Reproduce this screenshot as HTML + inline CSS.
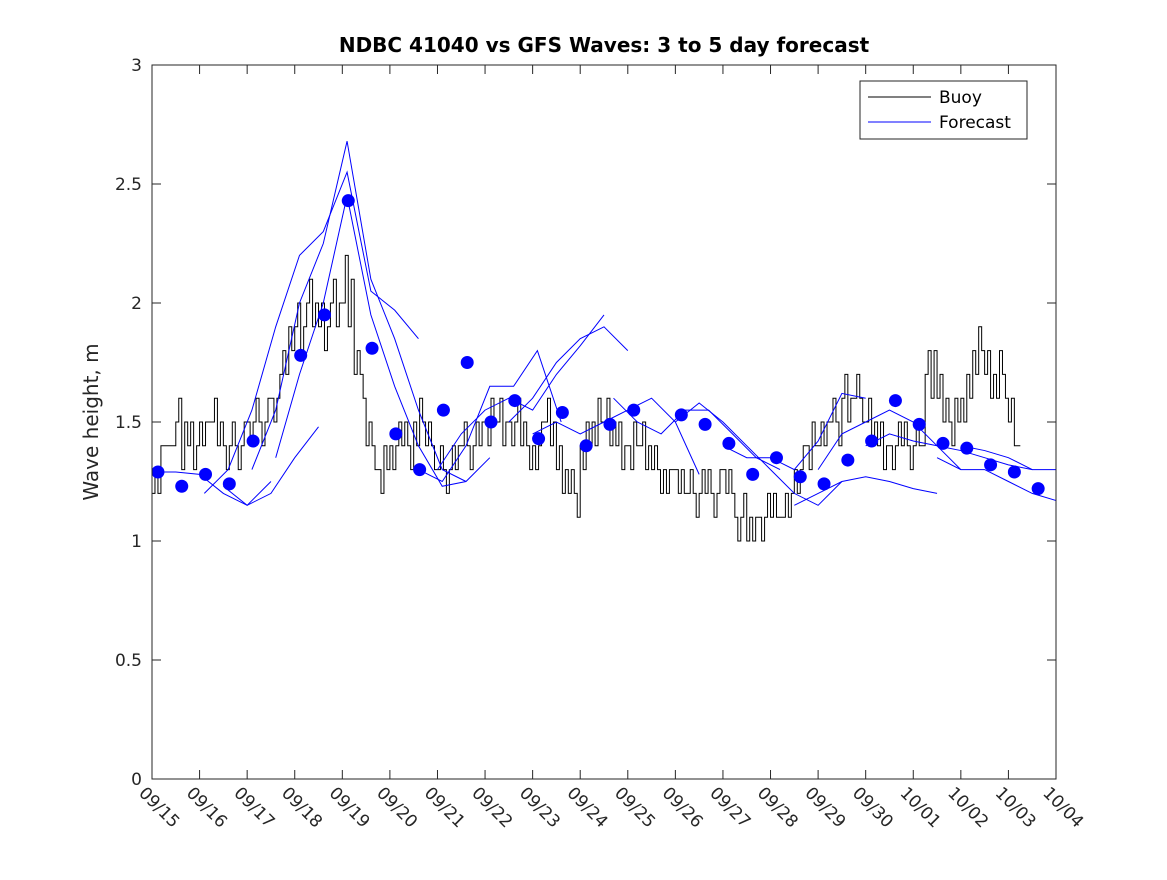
<!DOCTYPE html>
<html><head><meta charset="utf-8"><style>
body{margin:0;background:#fff;}
svg text{font-family:"DejaVu Sans","Liberation Sans",sans-serif;}
</style></head><body>
<svg id="chart" width="1167" height="875" xmlns="http://www.w3.org/2000/svg">
<defs><clipPath id="plotclip"><rect x="152" y="65" width="904" height="714"/></clipPath></defs>
<rect width="1167" height="875" fill="#fff"/>
<text x="604" y="52" font-size="20" font-weight="bold" text-anchor="middle" fill="#000">NDBC 41040 vs GFS Waves: 3 to 5 day forecast</text>
<text transform="translate(98,422) rotate(-90)" font-size="20" text-anchor="middle" fill="#262626">Wave height, m</text>
<g id="axes"></g>
<g id="marks" clip-path="url(#plotclip)"></g>
<rect x="152" y="65" width="904" height="714" fill="none" stroke="#262626" stroke-width="1"/>
<g>
<rect x="860" y="81" width="167" height="58" fill="#fff" stroke="#262626"/>
<line x1="868" y1="97" x2="931" y2="97" stroke="#000"/>
<text x="939" y="103" font-size="17" fill="#000">Buoy</text>
<line x1="868" y1="122" x2="931" y2="122" stroke="#00f"/>
<text x="939" y="128" font-size="17" fill="#000">Forecast</text>
</g>
</svg>
<script>
const xTickLabels=["09/15","09/16","09/17","09/18","09/19","09/20","09/21","09/22","09/23","09/24","09/25","09/26","09/27","09/28","09/29","09/30","10/01","10/02","10/03","10/04"];
const yTicks=[0,0.5,1,1.5,2,2.5,3];
const yTickLabels=["0","0.5","1","1.5","2","2.5","3"];
const buoyStep=0.0625;
const buoyValues=[
1.2,1.3,1.2,1.4, 1.4,1.4,1.4,1.4, 1.5,1.6,1.3,1.5, 1.4,1.5,1.3,1.4,
1.5,1.4,1.5,1.5, 1.5,1.6,1.4,1.5, 1.4,1.3,1.4,1.5, 1.4,1.3,1.4,1.5,
1.5,1.4,1.5,1.6, 1.5,1.4,1.5,1.6, 1.6,1.5,1.6,1.7, 1.8,1.7,1.9,1.8,
1.9,2.0,1.8,1.9, 2.0,2.1,1.9,2.0, 1.9,2.0,1.8,1.9, 2.0,2.1,1.9,2.0,
2.0,2.2,1.9,2.1, 1.7,1.8,1.7,1.6, 1.4,1.5,1.4,1.3, 1.3,1.2,1.4,1.3,
1.4,1.3,1.4,1.5, 1.4,1.5,1.4,1.3, 1.5,1.4,1.6,1.5, 1.4,1.5,1.4,1.3,
1.3,1.4,1.3,1.2, 1.3,1.4,1.3,1.4, 1.4,1.5,1.4,1.3, 1.4,1.5,1.4,1.5,
1.5,1.4,1.6,1.5, 1.5,1.6,1.4,1.5, 1.5,1.4,1.5,1.6, 1.4,1.5,1.4,1.3,
1.4,1.3,1.4,1.5, 1.5,1.6,1.4,1.5, 1.3,1.4,1.2,1.3, 1.2,1.3,1.2,1.1,
1.4,1.3,1.5,1.4, 1.5,1.4,1.6,1.5, 1.5,1.6,1.4,1.5, 1.4,1.5,1.3,1.4,
1.4,1.3,1.5,1.4, 1.4,1.5,1.3,1.4, 1.3,1.4,1.3,1.2, 1.3,1.2,1.3,1.3,
1.3,1.2,1.3,1.2, 1.2,1.3,1.2,1.1, 1.2,1.3,1.2,1.3, 1.2,1.1,1.2,1.3,
1.3,1.2,1.3,1.2, 1.1,1.0,1.1,1.2, 1.0,1.1,1.0,1.1, 1.1,1.0,1.1,1.2,
1.1,1.2,1.1,1.1, 1.1,1.2,1.1,1.2, 1.3,1.2,1.3,1.4, 1.4,1.3,1.5,1.4,
1.4,1.5,1.4,1.5, 1.5,1.6,1.5,1.4, 1.6,1.7,1.5,1.6, 1.6,1.7,1.6,1.5,
1.5,1.6,1.4,1.5, 1.4,1.5,1.3,1.4, 1.4,1.3,1.4,1.5, 1.4,1.5,1.4,1.3,
1.4,1.5,1.4,1.4, 1.7,1.8,1.6,1.8, 1.6,1.7,1.5,1.6, 1.5,1.4,1.6,1.5,
1.6,1.5,1.7,1.6, 1.8,1.7,1.9,1.8, 1.7,1.8,1.6,1.7, 1.6,1.8,1.7,1.6,
1.5,1.6,1.4,1.4];
const dotStart=0.125;
const dotValues=[1.29,1.23,1.28,1.24,1.42,null,1.78,1.95,2.43,1.81,1.45,1.30,1.55,1.75,1.50,1.59,1.43,1.54,1.40,1.49,1.55,null,1.53,1.49,1.41,1.28,1.35,1.27,1.24,1.34,1.42,1.59,1.49,1.41,1.39,1.32,1.29,1.22];
const fcStarts=[0,1.5,1.1,2.1,2.6,5.6,6,7.5,8,9.7,11,12,13.5,14,15,16.5,17];
const fcValues=[
[1.29,1.29,1.28,1.2,1.15,1.25],
[1.23,1.15,1.2,1.35,1.48],
[1.2,1.3,1.55,1.9,2.2,2.3,2.55,2.05,1.97,1.85],
[1.3,1.55,2.0,2.25,2.68,2.1,1.85,1.55,1.3,1.25],
[1.35,1.7,2.0,2.45,1.95,1.65,1.4,1.23,1.25,1.35],
[1.3,1.25,1.4,1.65,1.65,1.8,1.5],
[1.3,1.45,1.55,1.6,1.55,1.7,1.82,1.95],
[1.5,1.6,1.75,1.85,1.9,1.8],
[1.45,1.5,1.45,1.5,1.55,1.6,1.5,1.28],
[1.6,1.5,1.45,1.55,1.55,1.45,1.35,1.3],
[1.5,1.58,1.5,1.4,1.3,1.2,1.15,1.25],
[1.4,1.35,1.35,1.3,1.42,1.62,1.6],
[1.15,1.2,1.25,1.27,1.25,1.22,1.2],
[1.3,1.45,1.5,1.55,1.5,1.4,1.3],
[1.4,1.45,1.42,1.4,1.38,1.35,1.32,1.3],
[1.35,1.3,1.3,1.25,1.2,1.17,1.2],
[1.4,1.38,1.35,1.3,1.3,1.35]];
const NS="http://www.w3.org/2000/svg";
const X0=152,X1=1056,Y0=779,Y1=65,DAYS=19,YMAX=3;
function xs(d){return X0+(X1-X0)*d/DAYS;}
function ys(v){return Y0-(Y0-Y1)*v/YMAX;}
function mk(tag,attrs,parent){const e=document.createElementNS(NS,tag);for(const k in attrs)e.setAttribute(k,attrs[k]);parent.appendChild(e);return e;}
const axes=document.getElementById('axes'),marks=document.getElementById('marks');
xTickLabels.forEach((lab,i)=>{const x=xs(i);
 const t1=mk('line',{x1:x,y1:Y0,x2:x,y2:Y0-9,stroke:'#262626'},axes);
 
 
 const t2=mk('line',{x1:x,y1:Y1,x2:x,y2:Y1+9,stroke:'#262626'},axes);
 
 
 const tx=mk('text',{transform:`translate(${x-14},${Y0+15}) rotate(45)`,'font-size':17,fill:'#262626'},axes);
 tx.textContent=lab;
 
 
});
yTicks.forEach((v,i)=>{const y=ys(v);
 const t1=mk('line',{x1:X0,y1:y,x2:X0+9,y2:y,stroke:'#262626'},axes);
 
 
 const t2=mk('line',{x1:X1,y1:y,x2:X1-9,y2:y,stroke:'#262626'},axes);
 
 
 const tx=mk('text',{x:X0-10,y:y+6,'font-size':17,'text-anchor':'end',fill:'#262626'},axes);
 tx.textContent=yTickLabels[i];
 
 
});
let d='';
buoyValues.forEach((v,i)=>{const x0=xs(i*buoyStep),x1=xs((i+1)*buoyStep),y=ys(v);
 d+=(i===0?`M${x0},${y}`:`V${y}`)+`H${x1}`;});
const bp=mk('path',{d:d,fill:'none',stroke:'#000','stroke-width':1},marks);


fcValues.forEach((arr,k)=>{const pts=arr.map((v,i)=>`${xs(fcStarts[k]+i*0.5)},${ys(v)}`).join(' ');
 const p=mk('polyline',{points:pts,fill:'none',stroke:'#00f','stroke-width':1},marks);
 
 
});
dotValues.forEach((v,i)=>{if(v===null)return;
 const c=mk('circle',{cx:xs(dotStart+i*0.5),cy:ys(v),r:6.5,fill:'#00f'},marks);
 
 
});
</script>
</body></html>
